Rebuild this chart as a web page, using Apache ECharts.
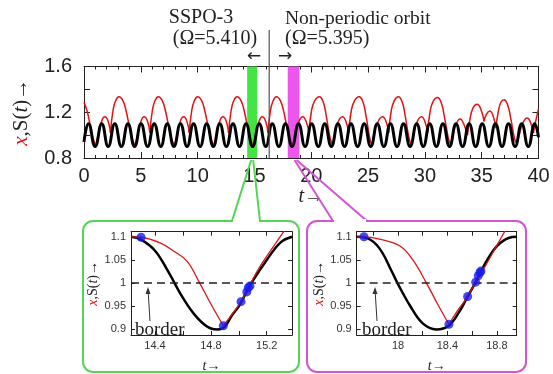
<!DOCTYPE html>
<html><head><meta charset="utf-8">
<script src="https://cdn.jsdelivr.net/npm/echarts@6/dist/echarts.min.js"></script>
<style>html,body{margin:0;padding:0;background:#fff}#c{width:553px;height:374px}</style>
</head><body><div id="c"></div>
<script>
// ---------------- DATA ----------------
const mainXRange = [0, 40];
const mainYRange = [0.8, 1.6];
// black S(t): times of maxima (1.1) and minima (0.9)
const blackPeakV = 1.1, blackTroughV = 0.9;
const blackPeaksT = [0.40,1.56,2.71,3.87,5.02,6.18,7.33,8.49,9.64,10.80,11.95,13.11,14.26,15.42,16.57,17.73,18.88,20.04,21.19,22.35,23.50,24.66,25.81,26.97,28.12,29.28,30.43,31.59,32.74,33.90,35.05,36.21,37.36,38.52,39.67];
const blackTroughsT = [0.98,2.13,3.29,4.45,5.60,6.76,7.91,9.07,10.22,11.38,12.53,13.69,14.84,16.00,17.15,18.31,19.46,20.62,21.77,22.93,24.08,25.24,26.39,27.55,28.70,29.86,31.01,32.17,33.32,34.47,35.63,36.79,37.94,39.10];
const blackEnds = [[0, 0.94], [40, 0.98]];
// red x(t): arcs between impacts
const redArcs = [
 [[0,1.29],[0.3,1.2],[0.55,1.08],[0.8,0.97],[1.03,0.91]],
 [[1.03,0.91],[1.23,0.99],[1.48,1.10],[1.83,1.16],[2.13,1.12],[2.33,1.02]],
 [[2.33,1.02],[2.53,1.2],[2.78,1.30],[3.08,1.336],[3.43,1.30],[3.73,1.2],[3.98,1.08],[4.23,0.97],[4.495,0.91]],
 [[4.495,0.91],[4.695,0.99],[4.945,1.10],[5.295,1.16],[5.595,1.12],[5.795,1.02]],
 [[5.795,1.02],[5.995,1.2],[6.245,1.30],[6.545,1.336],[6.895,1.30],[7.195,1.2],[7.445,1.08],[7.695,0.97],[7.96,0.91]],
 [[7.96,0.91],[8.16,0.99],[8.41,1.10],[8.76,1.16],[9.06,1.12],[9.26,1.02]],
 [[9.26,1.02],[9.46,1.2],[9.71,1.30],[10.01,1.336],[10.36,1.30],[10.66,1.2],[10.91,1.08],[11.16,0.97],[11.425,0.91]],
 [[11.425,0.91],[11.625,0.99],[11.875,1.10],[12.225,1.16],[12.525,1.12],[12.725,1.02]],
 [[12.725,1.02],[12.925,1.2],[13.175,1.30],[13.475,1.336],[13.825,1.30],[14.125,1.2],[14.375,1.08],[14.625,0.97],[14.89,0.91]],
 [[14.89,0.91],[15.09,0.99],[15.34,1.10],[15.69,1.16],[15.99,1.12],[16.19,1.02]],
 [[16.19,1.02],[16.39,1.2],[16.64,1.30],[16.94,1.336],[17.29,1.30],[17.59,1.2],[17.84,1.08],[18.1,0.97],[18.41,0.91]],
 [[18.41,0.91],[18.6,0.99],[18.85,1.10],[19.25,1.16],[19.55,1.12],[19.8,1.02]],
 [[19.8,1.02],[20.0,1.2],[20.3,1.30],[20.72,1.336],[21.05,1.29],[21.3,1.18],[21.5,1.06],[21.7,0.96],[21.87,0.915]],
 [[21.87,0.915],[22.05,0.99],[22.3,1.10],[22.75,1.16],[23.05,1.12],[23.3,1.02]],
 [[23.3,1.02],[23.5,1.2],[23.8,1.30],[24.22,1.336],[24.55,1.29],[24.8,1.18],[25.0,1.06],[25.18,0.96],[25.34,0.915]],
 [[25.34,0.915],[25.52,0.99],[25.8,1.10],[26.28,1.16],[26.58,1.12],[26.82,1.02]],
 [[26.82,1.02],[27.02,1.2],[27.3,1.30],[27.67,1.336],[28.0,1.29],[28.25,1.18],[28.45,1.06],[28.64,0.96],[28.8,0.915]],
 [[28.8,0.915],[28.98,0.99],[29.25,1.10],[29.7,1.16],[30.0,1.12],[30.25,1.02]],
 [[30.25,1.02],[30.45,1.2],[30.75,1.30],[31.12,1.33],[31.45,1.28],[31.7,1.17],[31.9,1.06],[32.1,0.96],[32.27,0.915]],
 [[32.27,0.915],[32.45,0.99],[32.7,1.08],[33.1,1.14],[33.45,1.09],[33.75,1.0]],
 [[33.75,1.0],[33.95,1.13],[34.25,1.24],[34.6,1.27],[34.95,1.22],[35.2,1.12]],
 [[35.2,1.12],[35.4,1.18],[35.7,1.21],[36.0,1.17],[36.25,1.06]],
 [[36.25,1.06],[36.45,1.2],[36.7,1.29],[36.97,1.31],[37.3,1.26],[37.55,1.15],[37.75,1.04],[37.95,0.95],[38.1,0.93]],
 [[38.1,0.93],[38.3,1.0],[38.6,1.10],[39.0,1.15],[39.3,1.11],[39.55,1.02]],
 [[39.55,1.02],[39.75,1.12],[40,1.23]]
];
const greenBand = [14.36, 15.24];
const magentaBand = [17.93, 18.95];
const dividerT = 16.3;

// left inset (SSPO-3)
const inLRange = [14.228, 15.381];
const inYRange = [0.888, 1.111];
const inLXLabels = [14.4, 14.8, 15.2];
const inLXTicks = [14.4, 14.6, 14.8, 15.0, 15.2];
const inYTicks = [0.9, 0.95, 1, 1.05, 1.1];
const inLBlack = [[14.228,1.1],[14.3,1.094],[14.4,1.07],[14.5,1.022],[14.6,0.968],[14.7,0.926],[14.8,0.902],[14.85,0.9],[14.9,0.906],[14.95,0.93],[15.0,0.95],[15.05,0.978],[15.1,1.005],[15.2,1.05],[15.3,1.088],[15.381,1.1]];
const inLRedFall = [[14.228,1.1],[14.3,1.099],[14.436,1.087],[14.53,1.07],[14.63,1.047],[14.72,1.0],[14.8,0.955],[14.889,0.908]];
const inLRedRise = [[14.889,0.908],[14.95,0.932],[15.016,0.96],[15.068,0.99],[15.15,1.035],[15.25,1.08],[15.33,1.115]];
const inLDots = [[14.30,1.099],[14.889,0.908],[15.016,0.96],[15.057,0.981],[15.068,0.99],[15.08,0.994]];

// right inset (non-periodic)
const inRRange = [17.666, 18.96];
const inRXLabels = [18, 18.4, 18.8];
const inRXTicks = [17.8, 18, 18.2, 18.4, 18.6, 18.8];
const inRBlack = [[17.666,1.1],[17.75,1.097],[17.85,1.075],[17.95,1.025],[18.0,0.998],[18.1,0.95],[18.2,0.913],[18.31,0.9],[18.41,0.908],[18.5,0.94],[18.563,0.971],[18.63,1.003],[18.7,1.04],[18.8,1.08],[18.9,1.098],[18.96,1.1]];
const inRRedFall = [[17.666,1.1],[17.725,1.1],[17.85,1.095],[18.016,1.08],[18.12,1.05],[18.23,1.0],[18.32,0.955],[18.412,0.911]];
const inRRedRise = [[18.412,0.911],[18.48,0.94],[18.563,0.971],[18.628,1.002],[18.7,1.034],[18.78,1.072],[18.87,1.115]];
const inRDots = [[17.725,1.1],[18.412,0.911],[18.563,0.971],[18.628,1.002],[18.649,1.016],[18.663,1.023],[18.671,1.026]];

// ---------------- STYLE ----------------
const SERIF = 'Liberation Serif';
const SANS = 'Liberation Sans';
const RED = '#e01414';
const GREEN = '#44e444';
const MAG = '#ee55ee';
const GREENBOX = '#55d455';
const MAGBOX = '#d455d4';

const blackMain = blackPeaksT.map(t => [t, blackPeakV])
  .concat(blackTroughsT.map(t => [t, blackTroughV]))
  .concat(blackEnds)
  .sort((a, b) => a[0] - b[0]);

const chart = echarts.init(document.getElementById('c'), null, {renderer: 'canvas'});

function axisBase(extra) {
  return Object.assign({
    type: 'value', splitLine: {show: false},
    axisLine: {show: true, onZero: false, lineStyle: {color: '#222', width: 1}},
    axisTick: {show: true, inside: true, length: 6, lineStyle: {color: '#222'}},
  }, extra);
}
const yName = (size) => ({
  name: '{r|x},S({i|t})→', nameLocation: 'middle', nameRotate: 90,
  nameTextStyle: {fontFamily: SERIF, fontSize: size, color: '#222',
    rich: {r: {fontFamily: SERIF, fontStyle: 'italic', fontSize: size, color: RED},
           i: {fontFamily: SERIF, fontStyle: 'italic', fontSize: size, color: '#222'}}}
});
const xName = (size) => ({
  name: '{i|t}→', nameLocation: 'middle',
  nameTextStyle: {fontFamily: SERIF, fontSize: size, color: '#222',
    rich: {i: {fontFamily: SERIF, fontStyle: 'italic', fontSize: size, color: '#222'}}}
});

const inLabel = {fontFamily: SANS, fontSize: 11, color: '#333', margin: 5};

const option = {
  animation: false,
  backgroundColor: '#fff',
  grid: [
    {left: 84, top: 66.5, width: 454.5, height: 91.5},
    {left: 131, top: 231.7, width: 161, height: 111},
    {left: 356.7, top: 231.7, width: 160, height: 111}
  ],
  xAxis: [
    axisBase(Object.assign({gridIndex: 0, min: mainXRange[0], max: mainXRange[1], interval: 5,
      minorTick: {show: true, splitNumber: 5, length: 3, lineStyle: {color: '#222'}},
      axisLabel: {fontFamily: SANS, fontSize: 20, color: '#222', margin: 8}, nameGap: 24}, xName(20))),
    axisBase({gridIndex: 0, position: 'top', min: mainXRange[0], max: mainXRange[1], interval: 5,
      minorTick: {show: true, splitNumber: 5, length: 3, lineStyle: {color: '#222'}},
      axisLabel: {show: false}}),
    axisBase(Object.assign({gridIndex: 1, min: inLRange[0], max: inLRange[1],
      axisTick: {show: true, inside: true, length: 4, customValues: inLXTicks, lineStyle: {color: '#222'}},
      axisLabel: Object.assign({customValues: inLXLabels}, inLabel), nameGap: 24}, xName(14))),
    axisBase({gridIndex: 1, position: 'top', min: inLRange[0], max: inLRange[1],
      axisTick: {show: true, inside: true, length: 4, customValues: inLXTicks, lineStyle: {color: '#222'}},
      axisLabel: {show: false}}),
    axisBase(Object.assign({gridIndex: 2, min: inRRange[0], max: inRRange[1],
      axisTick: {show: true, inside: true, length: 4, customValues: inRXTicks, lineStyle: {color: '#222'}},
      axisLabel: Object.assign({customValues: inRXLabels}, inLabel), nameGap: 24}, xName(14))),
    axisBase({gridIndex: 2, position: 'top', min: inRRange[0], max: inRRange[1],
      axisTick: {show: true, inside: true, length: 4, customValues: inRXTicks, lineStyle: {color: '#222'}},
      axisLabel: {show: false}})
  ],
  yAxis: [
    axisBase(Object.assign({gridIndex: 0, min: mainYRange[0], max: mainYRange[1], interval: 0.4,
      minorTick: {show: true, splitNumber: 2, length: 6, lineStyle: {color: '#222'}},
      axisLabel: {fontFamily: SANS, fontSize: 20, color: '#222', margin: 12, formatter: v => v.toFixed(1)},
      nameGap: 52}, yName(21))),
    axisBase({gridIndex: 0, position: 'right', min: mainYRange[0], max: mainYRange[1], interval: 0.4,
      minorTick: {show: true, splitNumber: 2, length: 6, lineStyle: {color: '#222'}},
      axisLabel: {show: false}}),
    axisBase(Object.assign({gridIndex: 1, min: inYRange[0], max: inYRange[1],
      axisTick: {show: true, inside: true, length: 4, customValues: inYTicks, lineStyle: {color: '#222'}},
      axisLabel: Object.assign({customValues: inYTicks}, inLabel), nameGap: 28}, yName(14))),
    axisBase({gridIndex: 1, position: 'right', min: inYRange[0], max: inYRange[1],
      axisTick: {show: true, inside: true, length: 4, customValues: inYTicks, lineStyle: {color: '#222'}},
      axisLabel: {show: false}}),
    axisBase(Object.assign({gridIndex: 2, min: inYRange[0], max: inYRange[1],
      axisTick: {show: true, inside: true, length: 4, customValues: inYTicks, lineStyle: {color: '#222'}},
      axisLabel: Object.assign({customValues: inYTicks}, inLabel), nameGap: 28}, yName(14))),
    axisBase({gridIndex: 2, position: 'right', min: inYRange[0], max: inYRange[1],
      axisTick: {show: true, inside: true, length: 4, customValues: inYTicks, lineStyle: {color: '#222'}},
      axisLabel: {show: false}})
  ],
  series: []
};

// bands (under the curves)
option.series.push({
  type: 'line', xAxisIndex: 0, yAxisIndex: 0, data: [], z: 1, silent: true,
  markArea: {silent: true, data: [
    [{xAxis: greenBand[0], itemStyle: {color: GREEN, opacity: 1}}, {xAxis: greenBand[1]}],
    [{xAxis: magentaBand[0], itemStyle: {color: MAG, opacity: 1}}, {xAxis: magentaBand[1]}]
  ]}
});
// main red
redArcs.forEach(arc => option.series.push({
  type: 'line', xAxisIndex: 0, yAxisIndex: 0, data: arc, smooth: 0.5, showSymbol: false, z: 3,
  lineStyle: {color: RED, width: 1.5}, silent: true
}));
// main black
option.series.push({
  type: 'line', xAxisIndex: 0, yAxisIndex: 0, data: blackMain, smooth: 0.5, showSymbol: false, z: 4,
  lineStyle: {color: '#000', width: 3}, silent: true
});

function insetSeries(xi, yi, black, fall, rise, dots) {
  option.series.push({
    type: 'line', xAxisIndex: xi, yAxisIndex: yi, data: black, smooth: 0.4, showSymbol: false, z: 3,
    lineStyle: {color: '#000', width: 2.5}, silent: true,
    markLine: {silent: true, symbol: ['none', 'none'], label: {show: false},
      lineStyle: {type: [8, 5], color: '#222', width: 1.5}, data: [{yAxis: 1}]}
  });
  [fall, rise].forEach(d => option.series.push({
    type: 'line', xAxisIndex: xi, yAxisIndex: yi, data: d, smooth: 0.4, showSymbol: false, z: 4,
    lineStyle: {color: RED, width: 1.3}, silent: true
  }));
  option.series.push({
    type: 'scatter', xAxisIndex: xi, yAxisIndex: yi, data: dots, symbolSize: 9, z: 5,
    itemStyle: {color: '#1a1aee'}, silent: true
  });
}
insetSeries(2, 2, inLBlack, inLRedFall, inLRedRise, inLDots);
insetSeries(4, 4, inRBlack, inRRedFall, inRRedRise, inRDots);

chart.setOption(option);

// ---------- annotations (positions from the axes) ----------
const px = (t, v) => chart.convertToPixel({xAxisIndex: 0, yAxisIndex: 0}, [t, v]);
const divTop = px(dividerT, 1.6), divBot = px(dividerT, 0.8);
const gL = px(greenBand[0], 0.8), gR = px(greenBand[1], 0.8);
const mL = px(magentaBand[0], 0.8), mR = px(magentaBand[1], 0.8);
const gMid = (gL[0] + gR[0]) / 2, mMid = (mL[0] + mR[0]) / 2;
const inLP = (t, v) => chart.convertToPixel({xAxisIndex: 2, yAxisIndex: 2}, [t, v]);
const inRP = (t, v) => chart.convertToPixel({xAxisIndex: 4, yAxisIndex: 4}, [t, v]);

function txt(x, y, s, size, align, fam) {
  return {type: 'text', x: x, y: y, z: 100, style: {text: s, fontFamily: fam || SERIF, fontSize: size,
    fill: '#222', align: align || 'center', verticalAlign: 'middle'}};
}
function line(x1, y1, x2, y2, color, w) {
  return {type: 'line', z: 50, shape: {x1, y1, x2, y2}, style: {stroke: color, lineWidth: w}};
}
function box(x, y, w, h, color, gap0, gap1) {
  return [
    {type: 'rect', z: 40, shape: {x, y, width: w, height: h, r: 10}, style: {fill: 'none', stroke: color, lineWidth: 2}},
    line(gap0 + 1, y, gap1 - 1, y, '#fff', 4)
  ];
}
function borderNote(P, tx, ty) {
  const tip = P(0, 1);
  return [
    txt(tx, ty, 'border', 19, 'left'),
    line(tx + 15, ty - 9, tx + 13, tip[1] + 6, '#333', 1),
    {type: 'polygon', z: 60, shape: {points: [[tx + 13, tip[1] + 4], [tx + 10.5, tip[1] + 11], [tx + 15.5, tip[1] + 11]]}, style: {fill: '#333'}}
  ];
}

const gfx = [
  txt(201, 18, 'SSPO-3', 20),
  txt(215, 39, '(Ω=5.410)', 20),
  txt(285, 19, 'Non-periodic orbit', 19.5, 'left'),
  txt(285, 39, '(Ω=5.395)', 20, 'left'),
  txt(254, 57, '←', 17, 'center', 'DejaVu Sans'),
  txt(285, 57, '→', 17, 'center', 'DejaVu Sans'),
  line(divTop[0], 30, divBot[0], divBot[1], '#555', 1.2),
  line(gMid - 1, gL[1] + 2, 232, 221, GREENBOX, 2),
  line(gMid + 1, gL[1] + 2, 260, 221, GREENBOX, 2),
  line(mMid + 1, mL[1] + 2, 333, 221, MAGBOX, 2),
  line(mMid + 3, mL[1] + 2, 367, 221, MAGBOX, 2)
].concat(box(83, 221, 216, 151, GREENBOX, 232, 260))
 .concat(box(307, 221, 219, 151, MAGBOX, 333, 367))
 .concat(borderNote(inLP, 135, 330))
 .concat(borderNote(inRP, 362, 330));

chart.setOption({graphic: gfx});
</script></body></html>
